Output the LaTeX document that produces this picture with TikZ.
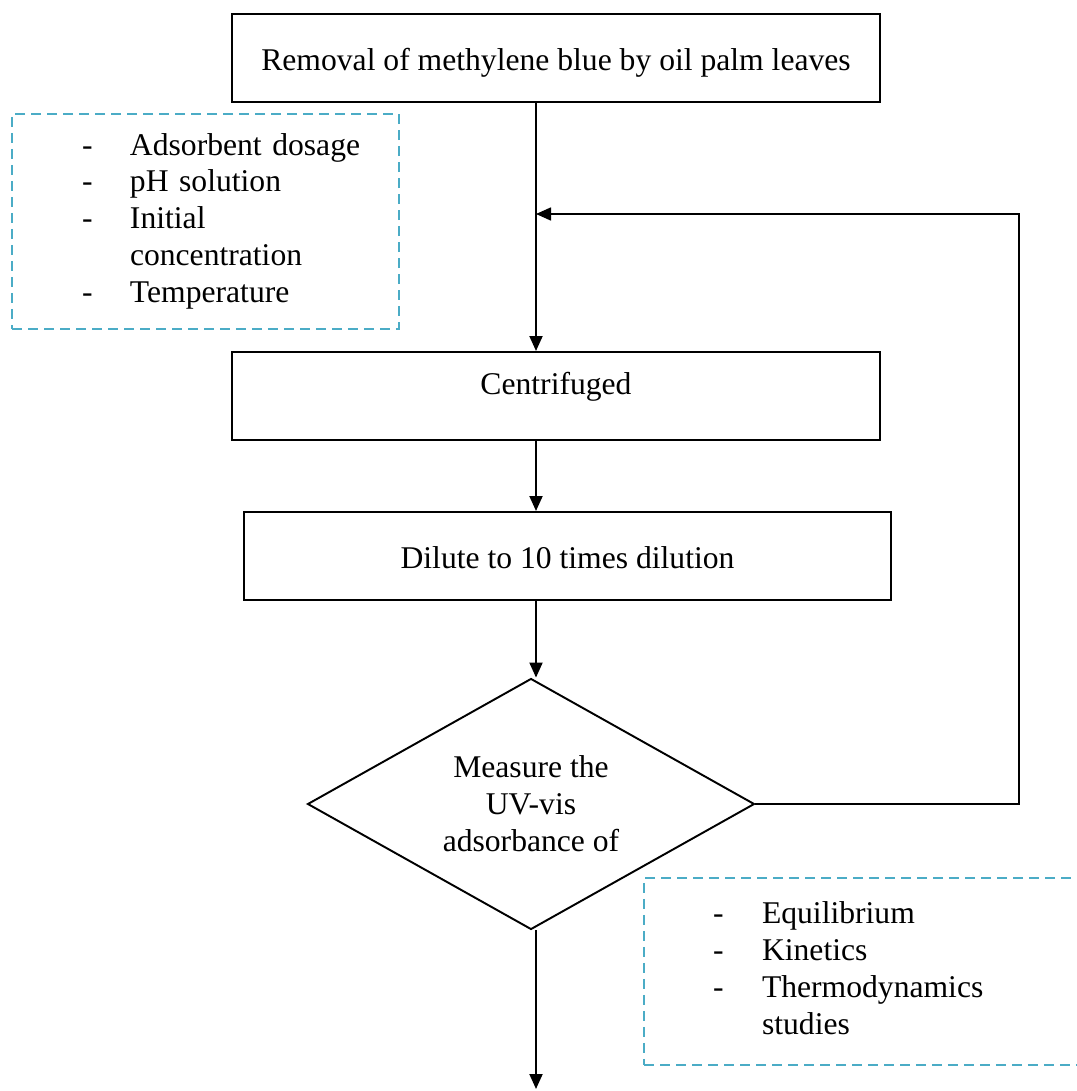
\documentclass[tikz,border=0pt]{standalone}
\usepackage{fontspec}
\setmainfont{Liberation Serif}
\usepackage{xcolor}
\usetikzlibrary{arrows.meta,calc,positioning,shapes.geometric}
\definecolor{notecyan}{RGB}{75,172,198}

\begin{document}
\begin{tikzpicture}[
      x=0.02cm, y=-0.02cm,
      font=\fontsize{18}{21}\selectfont,
      box/.style={draw=black, line width=1.1pt, minimum width=12.96cm,
        inner xsep=0pt, inner ysep=0pt, anchor=north},
      tallbox/.style={box, text height=1.14cm, text depth=0.62cm},
      lowbox/.style={box, text height=0.85cm, text depth=0.91cm},
      decision/.style={diamond, aspect=1.78, draw=black, line width=1.1pt,
        minimum width=8.94cm, minimum height=5.02cm, inner sep=0pt, align=center},
      notebox/.style={draw=notecyan, line width=1.4pt, dash pattern=on 0.2cm off 0.12cm,
        inner xsep=0pt, align=left},
      arrow/.style={-{Triangle[length=0.3cm, width=0.26cm]}, line width=1.1pt}
    ]
    \useasboundingbox (0,0) rectangle (1077,1091);

    \node[tallbox] (removal) at (556,13) {Removal of methylene blue by oil palm leaves};
    \node[lowbox] (centri) at (556,351) {Centrifuged};
    \node[tallbox] (dilute) at (567.5,511) {Dilute to 10 times dilution};
    \node[decision] (measure) at (531,804) {Measure the\\UV-vis\\adsorbance of};

    \node[notebox, minimum width=7.74cm, text width=7.74cm, minimum height=4.3cm]
      (factors) at (205.5,221.5)
      {\begin{tabular}{@{\hspace{1.4cm}}p{0.96cm}@{}l@{}}
        - & Adsorbent dosage\\
        - & pH solution\\
        - & Initial\\
          & concentration\\
        - & Temperature
      \end{tabular}};
    \node[notebox, minimum width=9.12cm, text width=9.12cm, minimum height=3.74cm]
      (studies) at (872,971.5)
      {\begin{tabular}{@{\hspace{1.38cm}}p{0.98cm}@{}l@{}}
        - & Equilibrium\\
        - & Kinetics\\
        - & Thermodynamics\\
          & studies
      \end{tabular}};

    \coordinate (spine) at (536,0);
    \coordinate (back) at (1019,214);
    \coordinate (join) at (536,214);
    \coordinate (outlet) at (536,1089);

    \draw[arrow] (removal.south -| spine) -- (centri.north -| spine);
    \draw[arrow] (centri.south -| spine) -- (dilute.north -| spine);
    \draw[arrow] (dilute.south -| spine) -- (measure.north -| spine);
    \draw[arrow, line width=0.9pt] (measure.east) -| (back) -- (join);
    \draw[arrow] (measure.south -| spine) -- (outlet);
  \end{tikzpicture}
\end{document}
